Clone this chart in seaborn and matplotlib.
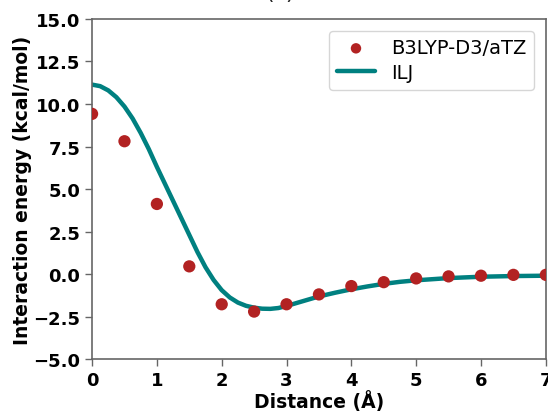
import numpy as np
import pandas as pd
import matplotlib
matplotlib.use("Agg")
import matplotlib.pyplot as plt
import seaborn as sns

# B3LYP-D3/aTZ reference points
dist_pts = [0.0, 0.5, 1.0, 1.5, 2.0, 2.5, 3.0, 3.5, 4.0, 4.5, 5.0, 5.5, 6.0, 6.5, 7.0]
energy_pts = [9.42, 7.81, 4.12, 0.45, -1.78, -2.21, -1.78, -1.20, -0.71, -0.48,
              -0.26, -0.14, -0.10, -0.05, -0.05]

# ILJ fitted curve
dist_ilj = [0.0, 0.125, 0.25, 0.375, 0.5, 0.625, 0.75, 0.875, 1.0, 1.125, 1.25, 1.375,
            1.5, 1.625, 1.75, 1.875, 2.0, 2.125, 2.25, 2.375, 2.5, 2.625, 2.75, 2.875,
            3.0, 3.25, 3.5, 3.75, 4.0, 4.25, 4.5, 4.75, 5.0, 5.5, 6.0, 6.5, 7.0]
energy_ilj = [11.14, 11.05, 10.80, 10.40, 9.85, 9.15, 8.30, 7.35, 6.30, 5.30, 4.30, 3.30,
              2.30, 1.30, 0.40, -0.35, -0.95, -1.38, -1.68, -1.87, -1.98, -2.04, -2.05, -2.00,
              -1.88, -1.60, -1.32, -1.10, -0.90, -0.73, -0.58, -0.46, -0.37, -0.24, -0.16,
              -0.12, -0.10]

pts = pd.DataFrame({"Distance": dist_pts, "Energy": energy_pts})
ilj = pd.DataFrame({"Distance": dist_ilj, "Energy": energy_ilj})

sns.set_style("white")
plt.rcParams["font.family"] = ["DejaVu Sans"]

fig = plt.figure(figsize=(5.48, 4.14), dpi=100)
ax = fig.add_axes([0.168, 0.1304, 0.828, 0.8213])

sns.scatterplot(data=pts, x="Distance", y="Energy", ax=ax, color="#b22222",
                s=78, edgecolor="none", label="B3LYP-D3/aTZ", zorder=3)
sns.lineplot(data=ilj, x="Distance", y="Energy", ax=ax, color="#008080",
             linewidth=3.2, label="ILJ", zorder=2)

ax.set_xlim(0, 7)
ax.set_ylim(-5, 15)
ax.set_yticks(np.arange(-5, 15.1, 2.5))
ax.set_xticks(range(0, 8))
ax.set_xlabel("Distance (Å)", fontsize=13.5, fontweight="bold", labelpad=1, color="black")
ax.set_ylabel("Interaction energy (kcal/mol)", fontsize=13.5, fontweight="bold",
              labelpad=1, color="black")
ax.tick_params(axis="both", labelsize=13, direction="out", length=5, width=1,
               left=True, bottom=True, color="#666666", labelcolor="black")
for lab in ax.get_xticklabels() + ax.get_yticklabels():
    lab.set_fontweight("bold")
for sp in ax.spines.values():
    sp.set_color("#666666")
    sp.set_linewidth(1.2)

# panel label, cut off at the top edge as in the source figure
fig.text(0.511, 1.003, "(c)", fontsize=16, ha="center", va="baseline")

leg = ax.legend(loc="upper right", fontsize=14, frameon=True, handlelength=2.0,
                borderpad=0.4, labelspacing=0.3, markerscale=0.85, borderaxespad=0.6)
leg.get_frame().set_edgecolor("#cccccc")
for t in leg.get_texts():
    t.set_color("black")

fig.savefig("out.png", dpi=100)
